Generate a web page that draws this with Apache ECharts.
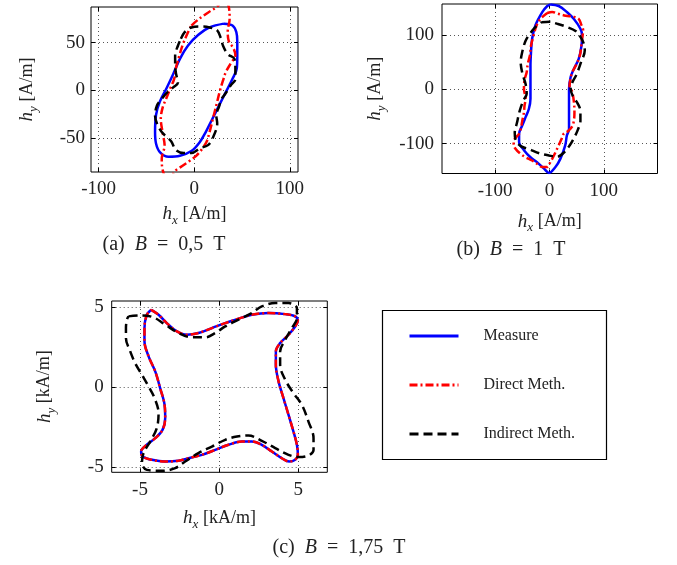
<!DOCTYPE html>
<html>
<head>
<meta charset="utf-8">
<script src="https://cdn.jsdelivr.net/npm/echarts@6/dist/echarts.min.js"></script>
</head>
<body style="margin:0">
<div id="container" style="width:677px;height:565px"></div>
<script>
// loops, [hx, hy]
var measureA = [[31,70],[40,68],[44,61],[45,51],[45,37],[44.5,23],[40,12],[33,-2],[26,-16],[19,-30],[12,-44],[5.5,-55],[-3,-64],[-15,-69],[-27,-70],[-36,-65],[-40,-56],[-41,-44],[-40,-26],[-36,-12],[-29,2],[-22,17],[-15,33],[-6.5,47],[4,58],[16,66],[31,70]];
var directA = [[-3,68],[5,75],[15,82],[24,88],[31,96],[36,88],[37,75],[35,62],[36,52],[41,44],[43,37],[38,28],[33,19],[30,10],[27,0],[24,-12],[20,-28],[16,-44],[13,-54],[8,-62],[2,-69],[-6,-75],[-13,-80],[-20,-85],[-27,-96],[-33,-84],[-34,-72],[-31,-58],[-33,-45],[-35,-30],[-33,-18],[-29,-8],[-25,2],[-21,12],[-19,24],[-16,35],[-12,48],[-7,60],[-3,68]];
var indirectA = [[-14,54],[-10,61],[-3,66],[8,67],[16,66],[24,63],[28,54],[30,47],[35,38],[42,33],[43,23],[43,12],[38,5],[33,-3],[28,-10],[26,-17],[23,-26],[24,-35],[19,-51],[14,-58],[6,-61],[-3,-66],[-11,-66],[-19,-63],[-24,-54],[-29,-49],[-34,-44],[-39,-35],[-41,-27],[-39,-16],[-34,-9],[-29,-3],[-22,3],[-17,8],[-19,17],[-20,26],[-20,37],[-17,47],[-14,54]];

var measureB = [[2,157],[17,154],[32,143],[45,130],[57,112],[60,100],[59,81],[54,57],[45,38],[39,23],[36,1],[36,-23],[36,-48],[36,-73],[32,-85],[29,-103],[20,-128],[11,-143],[-1,-154],[-10,-146],[-23,-134],[-35,-125],[-47,-112],[-56,-97],[-56,-82],[-50,-66],[-44,-51],[-38,-36],[-35,-17],[-35,1],[-35,20],[-35,44],[-34,69],[-32,93],[-26,118],[-13,143],[-4,154],[2,157]];
var directB = [[-4,141],[5,143],[15,140],[30,136],[45,134],[54,130],[58,121],[62,109],[60,93],[58,75],[56,63],[50,47],[42,32],[39,20],[37,7],[42,-5],[45,-23],[46,-42],[45,-57],[42,-68],[34,-77],[26,-82],[22,-92],[17,-103],[11,-116],[5,-128],[0,-137],[-4,-143],[-13,-143],[-23,-137],[-32,-131],[-44,-125],[-53,-119],[-63,-109],[-66,-100],[-64,-91],[-56,-82],[-53,-73],[-50,-57],[-47,-42],[-46,-30],[-44,-17],[-47,1],[-46,17],[-42,32],[-40,47],[-36,63],[-34,81],[-30,97],[-26,112],[-21,124],[-15,132],[-4,141]];
var indirectB = [[-15,124],[0,125],[15,121],[33,115],[48,108],[57,97],[63,85],[65,72],[58,50],[50,28],[43,15],[39,2],[43,-12],[52,-26],[57,-40],[57,-58],[52,-75],[45,-90],[38,-102],[28,-115],[14,-124],[0,-122],[-18,-118],[-38,-110],[-52,-105],[-62,-94],[-64,-80],[-60,-62],[-55,-40],[-48,-20],[-42,-8],[-44,10],[-50,30],[-53,50],[-50,70],[-44,90],[-36,103],[-26,115],[-15,124]];

var measureC = [[-4.29,4.85],[-3.83,4.54],[-3.31,4.02],[-2.67,3.5],[-2.04,3.29],[-1.31,3.4],[-0.46,3.71],[0.38,4.02],[1.22,4.29],[2.06,4.54],[3.12,4.65],[4.17,4.58],[4.8,4.44],[4.97,4.17],[4.8,3.81],[4.38,3.29],[3.85,2.77],[3.58,2.25],[3.58,1.42],[3.75,0.38],[4.06,-0.67],[4.38,-1.71],[4.69,-2.75],[4.91,-3.58],[4.97,-4.21],[4.8,-4.52],[4.42,-4.63],[3.96,-4.42],[3.33,-4],[2.69,-3.58],[2.06,-3.38],[1.43,-3.38],[0.59,-3.58],[-0.25,-3.9],[-1.09,-4.21],[-1.94,-4.42],[-2.57,-4.58],[-3.41,-4.63],[-4.25,-4.52],[-4.84,-4.31],[-4.93,-4],[-4.57,-3.58],[-4.04,-3.17],[-3.58,-2.65],[-3.41,-1.92],[-3.45,-1.08],[-3.73,-0.04],[-4.04,1],[-4.46,1.94],[-4.72,2.88],[-4.72,3.71],[-4.57,4.54],[-4.29,4.85]];
var directC = [[-4.29,4.85],[-3.83,4.54],[-3.31,4.02],[-2.67,3.5],[-2.04,3.29],[-1.31,3.4],[-0.46,3.71],[0.38,4.02],[1.22,4.29],[2.06,4.54],[3.12,4.65],[4.17,4.58],[4.8,4.44],[4.97,4.17],[4.8,3.81],[4.38,3.29],[3.85,2.77],[3.58,2.25],[3.58,1.42],[3.75,0.38],[4.06,-0.67],[4.38,-1.71],[4.69,-2.75],[4.91,-3.58],[4.97,-4.21],[4.8,-4.52],[4.42,-4.63],[3.96,-4.42],[3.33,-4],[2.69,-3.58],[2.06,-3.38],[1.43,-3.38],[0.59,-3.58],[-0.25,-3.9],[-1.09,-4.21],[-1.94,-4.42],[-2.57,-4.58],[-3.41,-4.63],[-4.25,-4.52],[-4.84,-4.31],[-4.93,-4],[-4.57,-3.58],[-4.04,-3.17],[-3.58,-2.65],[-3.41,-1.92],[-3.45,-1.08],[-3.73,-0.04],[-4.04,1],[-4.46,1.94],[-4.72,2.88],[-4.72,3.71],[-4.57,4.54],[-4.29,4.85]];
var indirectC = [[-5.73,4.44],[-4.88,4.5],[-4.15,4.38],[-3.41,3.92],[-2.57,3.4],[-1.73,3.13],[-0.88,3.13],[-0.25,3.4],[0.38,3.81],[1.22,4.23],[2.06,4.65],[2.69,5.06],[3.54,5.27],[4.38,5.27],[4.91,4.96],[4.91,4.33],[4.59,3.71],[4.17,2.98],[3.85,2.25],[3.85,1.42],[4.17,0.48],[4.69,-0.35],[5.22,-1.08],[5.64,-2.13],[5.96,-3.17],[5.96,-3.9],[5.64,-4.25],[5.01,-4.35],[4.38,-4.21],[3.54,-3.79],[2.69,-3.33],[1.85,-3],[1.12,-3.06],[0.38,-3.27],[-0.46,-3.69],[-1.31,-4.1],[-2.15,-4.63],[-2.78,-5.04],[-3.62,-5.21],[-4.57,-5.15],[-4.88,-4.73],[-4.78,-4.1],[-4.36,-3.38],[-3.94,-2.54],[-3.83,-1.6],[-4.08,-0.67],[-4.46,0.06],[-4.88,0.79],[-5.31,1.52],[-5.62,2.25],[-5.89,3.08],[-5.89,3.71],[-5.83,4.23],[-5.73,4.44]];

var ticksAx = [-100, 0, 100];
var ticksAy = [-50, 0, 50];
var ticksB = [-100, 0, 100];
var ticksC = [-5, 0, 5];
var names = ['Measure', 'Direct Meth.', 'Indirect Meth.'];

var font = 'Liberation Serif';
var dom = document.getElementById('container');
var myChart = echarts.init(dom);

var nameRich = {
    i: {fontFamily: font, fontStyle: 'italic', fontSize: 19, lineHeight: 26, color: '#222'},
    s: {fontFamily: font, fontStyle: 'italic', fontSize: 13, lineHeight: 14, verticalAlign: 'bottom', color: '#222'},
    t: {fontFamily: font, fontSize: 18, lineHeight: 26, color: '#222'}
};

var grids = [
    {left: 91, top: 7, width: 207, height: 165, x: [-108, 108.5], y: [-86, 87.5], tx: ticksAx, ty: ticksAy, unit: 'A/m', gx: 29, gy: 51, my: 6},
    {left: 442, top: 4, width: 215.5, height: 169.5, x: [-198, 199], y: [-155, 157.7], tx: ticksB, ty: ticksB, unit: 'A/m', gx: 35, gy: 54, my: 8},
    {left: 111.7, top: 301, width: 215.6, height: 171.3, x: [-6.79, 6.83], y: [-5.3, 5.4], tx: ticksC, ty: ticksC, unit: 'kA/m', gx: 33, gy: 54, my: 8}
];

function mainAxis(g, i, isX) {
    var ticks = isX ? g.tx : g.ty;
    var r = isX ? g.x : g.y;
    return {
        type: 'value', gridIndex: i, min: r[0], max: r[1],
        position: isX ? 'bottom' : 'left',
        axisLine: {show: false, onZero: false},
        axisTick: {show: true, inside: true, length: 4, lineStyle: {color: '#000'}, customValues: ticks},
        axisLabel: {customValues: ticks, margin: isX ? 8 : g.my, fontFamily: font, fontSize: 19, color: '#222'},
        splitLine: {show: true, lineStyle: {color: '#555', width: 1, type: [1, 3]}},
        name: '{i|h}{s|' + (isX ? 'x' : 'y') + '}{t| [' + g.unit + ']}',
        nameLocation: 'middle', nameGap: isX ? g.gx : g.gy,
        nameTextStyle: {rich: nameRich}
    };
}
function mirrorAxis(g, i, isX) {
    var ticks = isX ? g.tx : g.ty;
    var r = isX ? g.x : g.y;
    return {
        type: 'value', gridIndex: i, min: r[0], max: r[1],
        position: isX ? 'top' : 'right',
        axisLine: {show: false, onZero: false},
        axisTick: {show: true, inside: true, length: 4, lineStyle: {color: '#000'}, customValues: ticks},
        axisLabel: {show: false},
        splitLine: {show: false}
    };
}

var xAxes = [], yAxes = [];
grids.forEach(function (g, i) { xAxes.push(mainAxis(g, i, true)); yAxes.push(mainAxis(g, i, false)); });
grids.forEach(function (g, i) { xAxes.push(mirrorAxis(g, i, true)); yAxes.push(mirrorAxis(g, i, false)); });

var loops = [[measureA, directA, indirectA], [measureB, directB, indirectB], [measureC, directC, indirectC]];
var styles = [
    {color: '#0000ff', width: 2.5, type: 'solid'},
    {color: '#ff0000', width: 2.5, type: [8, 3, 2, 3]},
    {color: '#000000', width: 2.5, type: [9, 5]}
];
var series = [];
loops.forEach(function (set, i) {
    set.forEach(function (d, k) {
        series.push({
            name: names[k], type: 'line', xAxisIndex: i, yAxisIndex: i,
            data: d, symbol: 'none', smooth: 0.35, clip: true,
            color: styles[k].color,
            lineStyle: styles[k], z: 2 + k
        });
    });
});

function caption(x, y, txt) {
    return {
        type: 'text', x: x, y: y,
        style: {
            text: txt, fontFamily: font, fontSize: 20, fill: '#222',
            align: 'center', verticalAlign: 'middle', textAlign: 'center', textVerticalAlign: 'middle',
            rich: {i: {fontFamily: font, fontStyle: 'italic', fontSize: 20, color: '#222'}}
        }
    };
}

option = {
    animation: false,
    textStyle: {fontFamily: font},
    grid: grids.map(function (g) {
        return {left: g.left, top: g.top, width: g.width, height: g.height, show: true,
            borderColor: '#000', borderWidth: 1, backgroundColor: '#fff', outerBoundsMode: 'none', containLabel: false};
    }),
    xAxis: xAxes,
    yAxis: yAxes,
    legend: {
        orient: 'vertical', left: 408, top: 328, padding: 0, itemWidth: 49, itemHeight: 14, itemGap: 33,
        data: names, selectedMode: false,
        itemStyle: {opacity: 0},
        lineStyle: {width: 3},
        textStyle: {fontFamily: font, fontSize: 16, color: '#222', padding: [0, 0, 0, 20]}
    },
    graphic: [
        {type: 'rect', shape: {x: 382.5, y: 310.5, width: 224, height: 149}, style: {fill: '#fff', stroke: '#000', lineWidth: 1.2}, z: 0},
        caption(164, 245, '(a)  {i|B}  =  0,5  T'),
        caption(511, 250, '(b)  {i|B}  =  1  T'),
        caption(339, 548, '(c)  {i|B}  =  1,75  T')
    ],
    series: series
};
myChart.setOption(option, true);
</script>
</body>
</html>
